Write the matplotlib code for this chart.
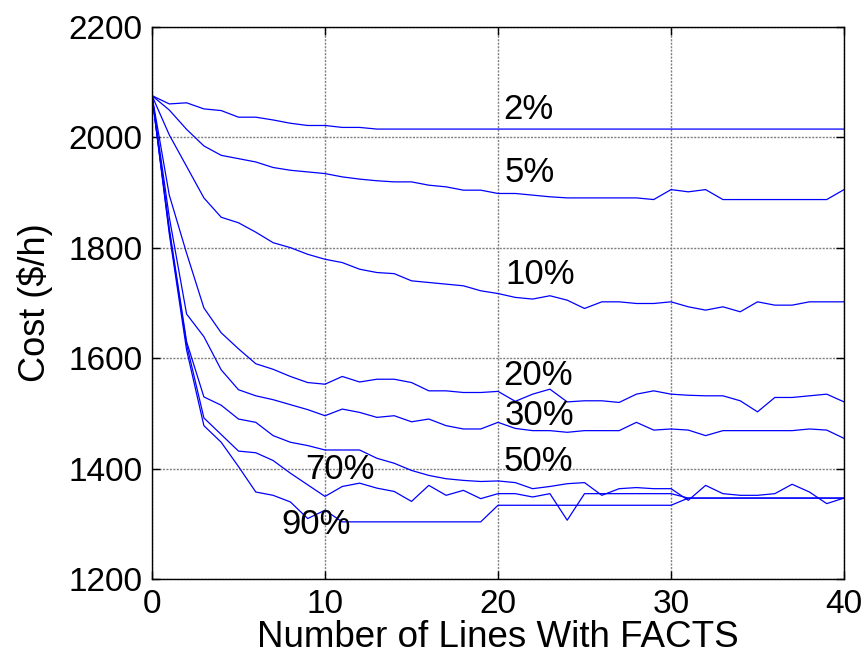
import matplotlib
matplotlib.use("Agg")
import matplotlib.pyplot as plt
import numpy as np

plt.rcParams['font.family'] = ['Liberation Sans', 'DejaVu Sans']

lines_count = list(range(0, 41))

cost_2 = [2075, 2060, 2062, 2051, 2048, 2036, 2036, 2031, 2025, 2021, 2021,
          2017.5, 2017.5, 2014.5, 2014.5, 2014.5, 2014.5, 2014.5, 2014.5, 2014.5, 2014.5,
          2014.5, 2014.5, 2014.5, 2014.5, 2014.5, 2014.5, 2014.5, 2014.5, 2014.5, 2014.5,
          2014.5, 2014.5, 2014.5, 2014.5, 2014.5, 2014.5, 2014.5, 2014.5, 2014.5, 2014.5]
cost_5 = [2075, 2049, 2014, 1984, 1967, 1961, 1955, 1945, 1940, 1937, 1934,
          1928, 1924, 1921, 1919, 1919, 1913, 1910, 1904, 1904, 1898,
          1898, 1895, 1892, 1890, 1890, 1890, 1890, 1890, 1887, 1905,
          1901, 1905, 1887, 1887, 1887, 1887, 1887, 1887, 1887, 1905]
cost_10 = [2075, 2004, 1947, 1890, 1855, 1845, 1828, 1809, 1800, 1788, 1779,
           1773, 1761, 1755, 1753, 1740, 1737, 1734, 1731, 1722, 1717,
           1710, 1707, 1713, 1705, 1690, 1702, 1702, 1699, 1699, 1702,
           1693, 1687, 1693, 1684, 1702, 1696, 1696, 1702, 1702, 1702]
cost_20 = [2075, 1895, 1790, 1691, 1646, 1617, 1590, 1580, 1567, 1556, 1553,
           1567, 1557, 1562, 1562, 1556, 1541, 1541, 1538, 1538, 1540,
           1522, 1535, 1544, 1521, 1523, 1523, 1520, 1535, 1541, 1535,
           1533, 1532, 1532, 1523, 1503, 1529, 1529, 1532, 1535, 1521]
cost_30 = [2075, 1855, 1680, 1639, 1579, 1543, 1532, 1525, 1516, 1507, 1496,
           1508, 1502, 1493, 1496, 1485, 1490, 1478, 1472, 1472, 1484,
           1473, 1469, 1469, 1466, 1469, 1469, 1469, 1484, 1470, 1472,
           1470, 1460, 1469, 1469, 1469, 1469, 1469, 1472, 1470, 1455]
cost_50 = [2075, 1835, 1630, 1530, 1515, 1490, 1484, 1460, 1448, 1442, 1434,
           1434, 1434, 1419, 1410, 1397, 1388, 1382, 1379, 1377, 1378,
           1375, 1364, 1368, 1373, 1375, 1352, 1364, 1366, 1364, 1364,
           1343, 1370, 1355, 1352, 1352, 1355, 1372, 1358, 1337, 1347]
cost_70 = [2075, 1830, 1625, 1492, 1462, 1432, 1429, 1415, 1392, 1371, 1350,
           1368, 1374, 1365, 1359, 1341, 1370, 1352, 1361, 1346, 1355,
           1355, 1349, 1355, 1307, 1355, 1355, 1355, 1355, 1355, 1355,
           1347, 1347, 1347, 1347, 1347, 1347, 1347, 1347, 1347, 1347]
cost_90 = [2075, 1825, 1615, 1478, 1448, 1404, 1358, 1352, 1340, 1310, 1325,
           1304, 1304, 1304, 1304, 1304, 1304, 1304, 1304, 1304, 1334,
           1334, 1334, 1334, 1334, 1334, 1334, 1334, 1334, 1334, 1334,
           1347, 1347, 1347, 1347, 1347, 1347, 1347, 1347, 1347, 1347]

series = [cost_2, cost_5, cost_10, cost_20, cost_30, cost_50, cost_70, cost_90]

label_texts = ["2%", "5%", "10%", "20%", "30%", "50%", "70%", "90%"]
label_x = [20.3, 20.4, 20.4, 20.3, 20.4, 20.3, 8.85, 7.5]
label_y = [2050, 1936, 1751, 1568, 1496, 1413, 1398, 1299]

x_ticks = [0, 10, 20, 30, 40]
y_ticks = [1200, 1400, 1600, 1800, 2000, 2200]

fig = plt.figure(figsize=(8.67, 6.55), dpi=100)
ax = fig.add_axes([0.1753, 0.1155, 0.7982, 0.8440])

for s in series:
    ax.plot(lines_count, s, color='#0000ff', lw=0.9)

for t, tx, ty in zip(label_texts, label_x, label_y):
    ax.text(tx, ty, t, fontsize=25, ha='left', va='center', color='black')

ax.set_xlim(0, 40)
ax.set_ylim(1200, 2200)
ax.set_xticks(x_ticks)
ax.set_yticks(y_ticks)
ax.grid(True, color='0.5', linestyle=(0, (1.5, 1)), lw=1.0)
ax.tick_params(direction='in', length=6, width=1, labelsize=24,
               top=True, right=True, pad=7, colors='black')
for sp in ax.spines.values():
    sp.set_linewidth(1.0)
    sp.set_color('black')

ax.set_xlabel("Number of Lines With FACTS", fontsize=26.5, labelpad=0)
ax.set_ylabel("Cost (\\$/h)", fontsize=26, labelpad=11)

fig.savefig("out.png", dpi=100)
